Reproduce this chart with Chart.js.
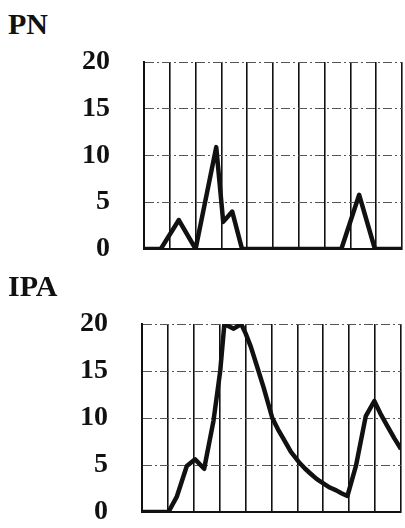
<!DOCTYPE html>
<html>
<head>
<meta charset="utf-8">
<script src="https://cdn.jsdelivr.net/npm/chart.js@4.4.1/dist/chart.umd.min.js"></script>
<style>
  body { margin: 0; background: #fff; width: 405px; height: 528px; overflow: hidden; position: relative; }
  .title { position: absolute; left: 8px; font: bold 30px "Liberation Serif", "Times New Roman", serif; color: #111; }
  .box { position: absolute; left: 0; width: 405px; }
</style>
</head>
<body>
<div class="title" style="top:7px">PN</div>
<div class="box" style="top:40px;height:230px"><canvas id="pn_chart"></canvas></div>
<div class="title" style="top:269px">IPA</div>
<div class="box" style="top:300px;height:232px"><canvas id="ipa_chart"></canvas></div>
<script>
// PN trace (x in grid columns, y in units)
var pnX = [0, 0.65, 1.35, 2.0, 2.8, 3.07, 3.42, 3.8, 7.65, 8.34, 8.95, 10];
var pnY = [0, 0, 3.1, 0, 10.9, 2.9, 4.0, 0, 0, 5.8, 0, 0];

// IPA trace
var ipaX = [0, 1.02, 1.34, 1.73, 2.05, 2.4, 2.76, 3.02, 3.18, 3.54, 3.83, 4.0, 4.2, 4.44, 4.7, 5.03, 5.25, 5.48, 5.75, 6.06, 6.3, 6.5, 6.75, 7.03, 7.25, 7.5, 7.7, 7.93, 8.26, 8.64, 8.97, 9.2, 9.48, 9.75, 10];
var ipaY = [0, 0, 1.6, 4.9, 5.6, 4.6, 9.7, 15, 20, 19.5, 20, 19.0, 17.6, 15.5, 13.2, 10.0, 8.8, 7.7, 6.4, 5.3, 4.6, 4.1, 3.5, 3.0, 2.6, 2.3, 2.0, 1.7, 4.9, 10.2, 11.8, 10.5, 9.1, 7.8, 6.7];

var yTicks = [0, 5, 10, 15, 20];

function makeTrace(canvasId, xs, ys, axisWidth, pad){
	/*
	Draws one trace panel with its grid and the 0-20 scale.
	*/
	var points = [];
	for (var i = 0; i < xs.length; i++) {
		points.push({x: xs[i], y: ys[i]});
	}

	const ctx = document.getElementById(canvasId).getContext('2d');
	return new Chart(ctx, {
	    type: 'line',
	    data: {
	        datasets: [{
	            data: points,
	            borderColor: '#111',
	            borderWidth: 4.5,
	            pointRadius: 0,
	            tension: 0,
	            borderJoinStyle: 'round'
	        }]
	    },
	    options: {
	        animation: false,
	        responsive: true,
	        maintainAspectRatio: false,
	        layout: { padding: pad },
	        scales: {
	            x: {
	                type: 'linear',
	                min: 0,
	                max: 10,
	                ticks: { display: false, stepSize: 1 },
	                grid: { color: '#111', lineWidth: 1.6, drawTicks: false },
	                border: { color: '#111', width: 2 }
	            },
	            y: {
	                min: 0,
	                max: 20,
	                afterFit: function(scale){
	                    // fixed axis width; the layout padding handles the label overhang
	                    scale.width = axisWidth;
	                    scale.paddingTop = 0;
	                    scale.paddingBottom = 0;
	                },
	                afterBuildTicks: function(scale){
	                    scale.ticks = yTicks.map(function(v){ return {value: v}; });
	                },
	                ticks: {
	                    padding: 34,
	                    color: '#111',
	                    font: { family: '"Liberation Serif", "Times New Roman", serif', size: 28, weight: 'bold' }
	                },
	                grid: { color: '#555', lineWidth: 1, drawTicks: false },
	                border: { color: '#111', width: 2, dash: [9, 3, 2, 3] }
	            }
	        },
	        plugins: {
	            legend: { display: false },
	            tooltip: { enabled: false }
	        }
	    }
	});
}

makeTrace('pn_chart', pnX, pnY, 144, {top: 22, bottom: 21, left: 0, right: 3});
makeTrace('ipa_chart', ipaX, ipaY, 142, {top: 24, bottom: 20, left: 0, right: 4});
</script>
</body>
</html>
